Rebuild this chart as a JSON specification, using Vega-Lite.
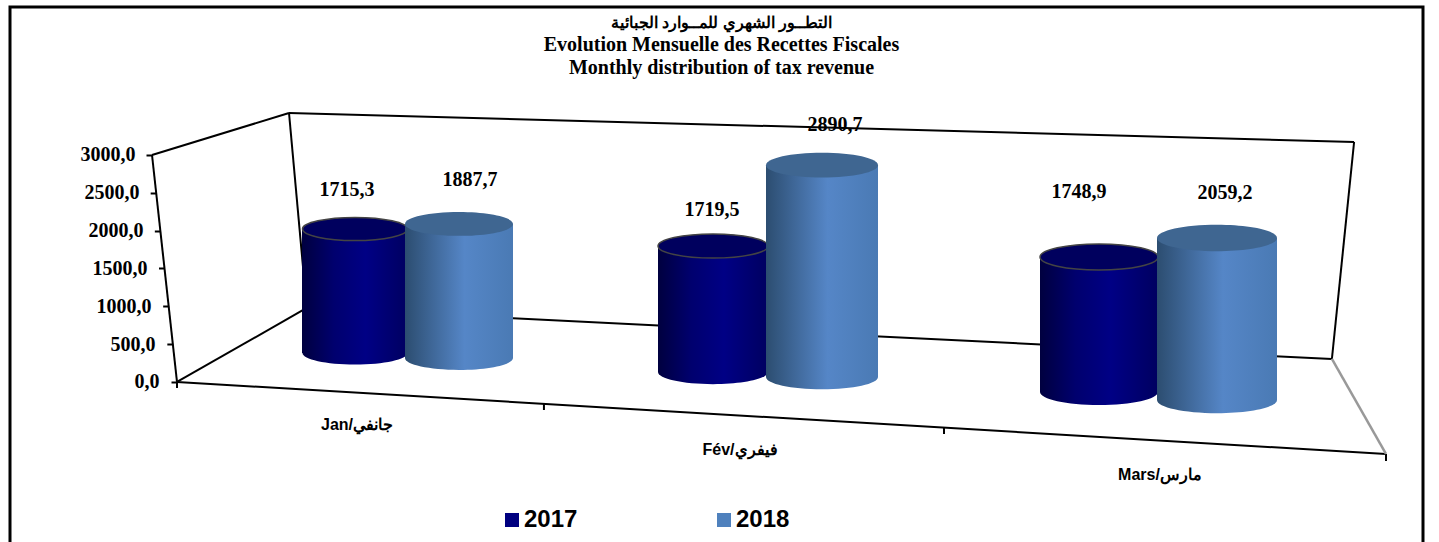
{"$schema":"https://vega.github.io/schema/vega-lite/v6.json","width":1413,"height":540,"autosize":{"type":"none"},"padding":{"left":10,"top":7,"right":16,"bottom":0},"background":"white",
"config":{"locale":{"number":{"decimal":",","thousands":" ","grouping":[3],"currency":["",""]}},"view":{"stroke":"#000000","strokeWidth":3},"text":{"font":"Liberation Serif","fontWeight":"bold","fontSize":20,"color":"#000000"}},
"title":{"text":"التطــور الشهري للمــوارد الجبائية","subtitle":["Evolution Mensuelle des Recettes Fiscales","Monthly distribution of tax revenue"],"font":"Liberation Serif","fontWeight":"bold","fontSize":16.4,"color":"#000000","subtitleFont":"Liberation Serif","subtitleFontWeight":"bold","subtitleFontSize":20,"subtitleLineHeight":23,"subtitleColor":"#000000","subtitlePadding":4,"anchor":"middle","offset":-71,"dx":5},
"datasets":{"revenue":[{"month":"Jan/جانفي","year":2017,"value":1715.3},{"month":"Jan/جانفي","year":2018,"value":1887.7},{"month":"Fév/فيفري","year":2017,"value":1719.5},{"month":"Fév/فيفري","year":2018,"value":2890.7},{"month":"Mars/مارس","year":2017,"value":1748.9},{"month":"Mars/مارس","year":2018,"value":2059.2}],
"frame":[{"part":"axis","u":0,"v":0},{"part":"axis","u":-0.0619,"v":3000},{"part":"leftTop","u":-0.0619,"v":3000},{"part":"leftTop","u":0.2775,"v":3555},{"part":"backLeft","u":0.2775,"v":3555},{"part":"backLeft","u":0.3214,"v":978},{"part":"backTop","u":0.2775,"v":3555},{"part":"backTop","u":2.916,"v":3172},{"part":"backRight","u":2.916,"v":3172},{"part":"backRight","u":2.861,"v":304},{"part":"floorBack","u":0.3214,"v":978},{"part":"floorBack","u":2.861,"v":304},{"part":"floorLeft","u":0,"v":0},{"part":"floorLeft","u":0.3214,"v":978},{"part":"floorFront","u":0,"v":0},{"part":"floorFront","u":2.995,"v":-951},{"part":"t0","u":0,"v":0},{"part":"t0","u":0.0001,"v":-79},{"part":"t1","u":0.909,"v":-291},{"part":"t1","u":0.9091,"v":-370},{"part":"t2","u":1.9,"v":-608},{"part":"t2","u":1.9001,"v":-687},{"part":"t3","u":2.995,"v":-951},{"part":"t3","u":2.9951,"v":-1044}],
"side":[{"u":2.861,"v":304},{"u":2.995,"v":-951}]},
"data":{"name":"revenue"},
"resolve":{"scale":{"x":"independent","y":"independent"}},
"layer":[
{"data":{"name":"frame"},"encoding":{"x":{"field":"u","type":"quantitative","axis":null,"scale":{"domain":[-0.4137,3.0867],"nice":false,"zero":false}},"y":{"field":"v","type":"quantitative","scale":{"domain":[-2181,4956],"nice":false,"zero":false},"axis":{"values":[0,500,1000,1500,2000,2500,3000],"format":".1f","title":null,"domain":false,"grid":false,"offset":-167,"tickSize":6,"tickWidth":2,"tickColor":"#000000","labelFont":"Liberation Serif","labelFontWeight":"bold","labelFontSize":20,"labelColor":"#000000","labelPadding":12,"encoding":{"labels":{"dx":{"value":{"expr":"-datum.value/3000*24"}}},"ticks":{"x":{"value":{"expr":"-datum.value/3000*25"}},"x2":{"value":{"expr":"-datum.value/3000*25-6"}}}}}},"detail":{"field":"part"}},"mark":{"type":"line","color":"#000000","strokeWidth":2}},
{"data":{"name":"side"},"encoding":{"x":{"field":"u","type":"quantitative","axis":null,"scale":{"domain":[-0.4137,3.0867],"nice":false,"zero":false}},"y":{"field":"v","type":"quantitative","axis":null,"scale":{"domain":[-2181,4956],"nice":false,"zero":false}}},"mark":{"type":"line","color":"#999999","strokeWidth":2.5}},

{"transform":[{"filter":{"and":[{"field":"month","equal":"Jan/جانفي"},{"field":"year","equal":2017}]}}],
"encoding":{"x":{"field":"year","type":"nominal","axis":null,"scale":{"type":"band","range":[292,398],"padding":0}}},
"layer":[
{"mark":{"type":"point","filled":true,"opacity":1,"size":11025,"color":{"gradient":"linear","x1":0,"y1":0,"x2":1,"y2":0,"stops":[{"offset":0,"color":"#00003f"},{"offset":0.3,"color":"#00006e"},{"offset":0.6,"color":"#000085"},{"offset":1,"color":"#000060"}]},"shape":"M-1,0A1,0.22,0,1,1,1,0A1,0.22,0,1,1,-1,0Z"},"encoding":{"y":{"datum":0,"type":"quantitative","axis":null,"scale":{"domain":[-2683,4786],"nice":false,"zero":false}}}},
{"mark":{"type":"bar"},"encoding":{"y":{"field":"value","type":"quantitative","axis":null,"scale":{"domain":[-2683,4786],"nice":false,"zero":false}},"color":{"field":"year","type":"nominal","title":null,"scale":{"domain":[2017,2018],"range":["#000080","#4f81bd"]},"legend":{"orient":"none","legendX":490,"legendY":501,"direction":"horizontal","columns":2,"columnPadding":134,"symbolType":"square","symbolSize":196,"labelFont":"Liberation Sans","labelFontWeight":"bold","labelFontSize":24,"labelColor":"#000000","labelOffset":0}}}},
{"mark":{"type":"bar","color":{"gradient":"linear","x1":0,"y1":0,"x2":1,"y2":0,"stops":[{"offset":0,"color":"#00003f"},{"offset":0.3,"color":"#00006e"},{"offset":0.6,"color":"#000085"},{"offset":1,"color":"#000060"}]}},"encoding":{"y":{"field":"value","type":"quantitative","axis":null,"scale":{"domain":[-2683,4786],"nice":false,"zero":false}}}},
{"mark":{"type":"point","filled":true,"opacity":1,"size":11025,"stroke":"#444444","strokeWidth":1.5,"shape":"M-1,0A1,0.22,0,1,1,1,0A1,0.22,0,1,1,-1,0Z"},"encoding":{"y":{"field":"value","type":"quantitative","axis":null,"scale":{"domain":[-2683,4786],"nice":false,"zero":false}},"fill":{"field":"year","type":"nominal","legend":null,"scale":{"domain":[2017,2018],"range":["#00005e","#3f6691"]}}}},
{"mark":{"type":"text","dy":-39,"dx":-8},"encoding":{"y":{"field":"value","type":"quantitative","axis":null,"scale":{"domain":[-2683,4786],"nice":false,"zero":false}},"text":{"field":"value","type":"quantitative","format":".1f"}}},
{"mark":{"type":"text","dx":2,"font":"Liberation Sans","fontSize":16},"encoding":{"y":{"datum":-996,"type":"quantitative","axis":null,"scale":{"domain":[-2683,4786],"nice":false,"zero":false}},"text":{"field":"month","type":"nominal"}}}
]},

{"transform":[{"filter":{"and":[{"field":"month","equal":"Jan/جانفي"},{"field":"year","equal":2018}]}}],
"encoding":{"x":{"field":"year","type":"nominal","axis":null,"scale":{"type":"band","range":[395,503],"padding":0}}},
"layer":[
{"mark":{"type":"point","filled":true,"opacity":1,"size":11664,"color":{"gradient":"linear","x1":0,"y1":0,"x2":1,"y2":0,"stops":[{"offset":0,"color":"#2c4d70"},{"offset":0.55,"color":"#5586c7"},{"offset":1,"color":"#4a7ab4"}]},"shape":"M-1,0A1,0.22,0,1,1,1,0A1,0.22,0,1,1,-1,0Z"},"encoding":{"y":{"datum":0,"type":"quantitative","axis":null,"scale":{"domain":[-2662,4944],"nice":false,"zero":false}}}},
{"mark":{"type":"bar","color":{"gradient":"linear","x1":0,"y1":0,"x2":1,"y2":0,"stops":[{"offset":0,"color":"#2c4d70"},{"offset":0.55,"color":"#5586c7"},{"offset":1,"color":"#4a7ab4"}]}},"encoding":{"y":{"field":"value","type":"quantitative","axis":null,"scale":{"domain":[-2662,4944],"nice":false,"zero":false}}}},
{"mark":{"type":"point","filled":true,"opacity":1,"size":11664,"strokeWidth":0,"shape":"M-1,0A1,0.22,0,1,1,1,0A1,0.22,0,1,1,-1,0Z"},"encoding":{"y":{"field":"value","type":"quantitative","axis":null,"scale":{"domain":[-2662,4944],"nice":false,"zero":false}},"fill":{"field":"year","type":"nominal","legend":null}}},
{"mark":{"type":"text","dy":-44,"dx":11},"encoding":{"y":{"field":"value","type":"quantitative","axis":null,"scale":{"domain":[-2662,4944],"nice":false,"zero":false}},"text":{"field":"value","type":"quantitative","format":".1f"}}}
]},

{"transform":[{"filter":{"and":[{"field":"month","equal":"Fév/فيفري"},{"field":"year","equal":2017}]}}],
"encoding":{"x":{"field":"year","type":"nominal","axis":null,"scale":{"type":"band","range":[648,758],"padding":0}}},
"layer":[
{"mark":{"type":"point","filled":true,"opacity":1,"size":12100,"color":{"gradient":"linear","x1":0,"y1":0,"x2":1,"y2":0,"stops":[{"offset":0,"color":"#00003f"},{"offset":0.3,"color":"#00006e"},{"offset":0.6,"color":"#000085"},{"offset":1,"color":"#000060"}]},"shape":"M-1,0A1,0.22,0,1,1,1,0A1,0.22,0,1,1,-1,0Z"},"encoding":{"y":{"datum":0,"type":"quantitative","axis":null,"scale":{"domain":[-2387,4980],"nice":false,"zero":false}}}},
{"mark":{"type":"bar","color":{"gradient":"linear","x1":0,"y1":0,"x2":1,"y2":0,"stops":[{"offset":0,"color":"#00003f"},{"offset":0.3,"color":"#00006e"},{"offset":0.6,"color":"#000085"},{"offset":1,"color":"#000060"}]}},"encoding":{"y":{"field":"value","type":"quantitative","axis":null,"scale":{"domain":[-2387,4980],"nice":false,"zero":false}}}},
{"mark":{"type":"point","filled":true,"opacity":1,"size":12100,"stroke":"#444444","strokeWidth":1.5,"shape":"M-1,0A1,0.22,0,1,1,1,0A1,0.22,0,1,1,-1,0Z"},"encoding":{"y":{"field":"value","type":"quantitative","axis":null,"scale":{"domain":[-2387,4980],"nice":false,"zero":false}},"fill":{"field":"year","type":"nominal","legend":null}}},
{"mark":{"type":"text","dy":-36,"dx":-1},"encoding":{"y":{"field":"value","type":"quantitative","axis":null,"scale":{"domain":[-2387,4980],"nice":false,"zero":false}},"text":{"field":"value","type":"quantitative","format":".1f"}}},
{"mark":{"type":"text","dx":27,"font":"Liberation Sans","fontSize":16},"encoding":{"y":{"datum":-1064,"type":"quantitative","axis":null,"scale":{"domain":[-2387,4980],"nice":false,"zero":false}},"text":{"field":"month","type":"nominal"}}}
]},

{"transform":[{"filter":{"and":[{"field":"month","equal":"Fév/فيفري"},{"field":"year","equal":2018}]}}],
"encoding":{"x":{"field":"year","type":"nominal","axis":null,"scale":{"type":"band","range":[756,868],"padding":0}}},
"layer":[
{"mark":{"type":"point","filled":true,"opacity":1,"size":12544,"color":{"gradient":"linear","x1":0,"y1":0,"x2":1,"y2":0,"stops":[{"offset":0,"color":"#2c4d70"},{"offset":0.55,"color":"#5586c7"},{"offset":1,"color":"#4a7ab4"}]},"shape":"M-1,0A1,0.22,0,1,1,1,0A1,0.22,0,1,1,-1,0Z"},"encoding":{"y":{"datum":0,"type":"quantitative","axis":null,"scale":{"domain":[-2319,5048],"nice":false,"zero":false}}}},
{"mark":{"type":"bar","color":{"gradient":"linear","x1":0,"y1":0,"x2":1,"y2":0,"stops":[{"offset":0,"color":"#2c4d70"},{"offset":0.55,"color":"#5586c7"},{"offset":1,"color":"#4a7ab4"}]}},"encoding":{"y":{"field":"value","type":"quantitative","axis":null,"scale":{"domain":[-2319,5048],"nice":false,"zero":false}}}},
{"mark":{"type":"point","filled":true,"opacity":1,"size":12544,"strokeWidth":0,"shape":"M-1,0A1,0.22,0,1,1,1,0A1,0.22,0,1,1,-1,0Z"},"encoding":{"y":{"field":"value","type":"quantitative","axis":null,"scale":{"domain":[-2319,5048],"nice":false,"zero":false}},"fill":{"field":"year","type":"nominal","legend":null}}},
{"mark":{"type":"text","dy":-40,"dx":13},"encoding":{"y":{"field":"value","type":"quantitative","axis":null,"scale":{"domain":[-2319,5048],"nice":false,"zero":false}},"text":{"field":"value","type":"quantitative","format":".1f"}}}
]},

{"transform":[{"filter":{"and":[{"field":"month","equal":"Mars/مارس"},{"field":"year","equal":2017}]}}],
"encoding":{"x":{"field":"year","type":"nominal","axis":null,"scale":{"type":"band","range":[1030,1148],"padding":0}}},
"layer":[
{"mark":{"type":"point","filled":true,"opacity":1,"size":13924,"color":{"gradient":"linear","x1":0,"y1":0,"x2":1,"y2":0,"stops":[{"offset":0,"color":"#00003f"},{"offset":0.3,"color":"#00006e"},{"offset":0.6,"color":"#000085"},{"offset":1,"color":"#000060"}]},"shape":"M-1,0A1,0.22,0,1,1,1,0A1,0.22,0,1,1,-1,0Z"},"encoding":{"y":{"datum":0,"type":"quantitative","axis":null,"scale":{"domain":[-2008,4987],"nice":false,"zero":false}}}},
{"mark":{"type":"bar","color":{"gradient":"linear","x1":0,"y1":0,"x2":1,"y2":0,"stops":[{"offset":0,"color":"#00003f"},{"offset":0.3,"color":"#00006e"},{"offset":0.6,"color":"#000085"},{"offset":1,"color":"#000060"}]}},"encoding":{"y":{"field":"value","type":"quantitative","axis":null,"scale":{"domain":[-2008,4987],"nice":false,"zero":false}}}},
{"mark":{"type":"point","filled":true,"opacity":1,"size":13924,"stroke":"#444444","strokeWidth":1.5,"shape":"M-1,0A1,0.22,0,1,1,1,0A1,0.22,0,1,1,-1,0Z"},"encoding":{"y":{"field":"value","type":"quantitative","axis":null,"scale":{"domain":[-2008,4987],"nice":false,"zero":false}},"fill":{"field":"year","type":"nominal","legend":null}}},
{"mark":{"type":"text","dy":-65,"dx":-20},"encoding":{"y":{"field":"value","type":"quantitative","axis":null,"scale":{"domain":[-2008,4987],"nice":false,"zero":false}},"text":{"field":"value","type":"quantitative","format":".1f"}}},
{"mark":{"type":"text","dx":61,"font":"Liberation Sans","fontSize":16},"encoding":{"y":{"datum":-1075,"type":"quantitative","axis":null,"scale":{"domain":[-2008,4987],"nice":false,"zero":false}},"text":{"field":"month","type":"nominal"}}}
]},

{"transform":[{"filter":{"and":[{"field":"month","equal":"Mars/مارس"},{"field":"year","equal":2018}]}}],
"encoding":{"x":{"field":"year","type":"nominal","axis":null,"scale":{"type":"band","range":[1147,1267],"padding":0}}},
"layer":[
{"mark":{"type":"point","filled":true,"opacity":1,"size":14400,"color":{"gradient":"linear","x1":0,"y1":0,"x2":1,"y2":0,"stops":[{"offset":0,"color":"#2c4d70"},{"offset":0.55,"color":"#5586c7"},{"offset":1,"color":"#4a7ab4"}]},"shape":"M-1,0A1,0.22,0,1,1,1,0A1,0.22,0,1,1,-1,0Z"},"encoding":{"y":{"datum":0,"type":"quantitative","axis":null,"scale":{"domain":[-1868,4994],"nice":false,"zero":false}}}},
{"mark":{"type":"bar","color":{"gradient":"linear","x1":0,"y1":0,"x2":1,"y2":0,"stops":[{"offset":0,"color":"#2c4d70"},{"offset":0.55,"color":"#5586c7"},{"offset":1,"color":"#4a7ab4"}]}},"encoding":{"y":{"field":"value","type":"quantitative","axis":null,"scale":{"domain":[-1868,4994],"nice":false,"zero":false}}}},
{"mark":{"type":"point","filled":true,"opacity":1,"size":14400,"strokeWidth":0,"shape":"M-1,0A1,0.22,0,1,1,1,0A1,0.22,0,1,1,-1,0Z"},"encoding":{"y":{"field":"value","type":"quantitative","axis":null,"scale":{"domain":[-1868,4994],"nice":false,"zero":false}},"fill":{"field":"year","type":"nominal","legend":null}}},
{"mark":{"type":"text","dy":-45,"dx":8},"encoding":{"y":{"field":"value","type":"quantitative","axis":null,"scale":{"domain":[-1868,4994],"nice":false,"zero":false}},"text":{"field":"value","type":"quantitative","format":".1f"}}}
]}
]}
